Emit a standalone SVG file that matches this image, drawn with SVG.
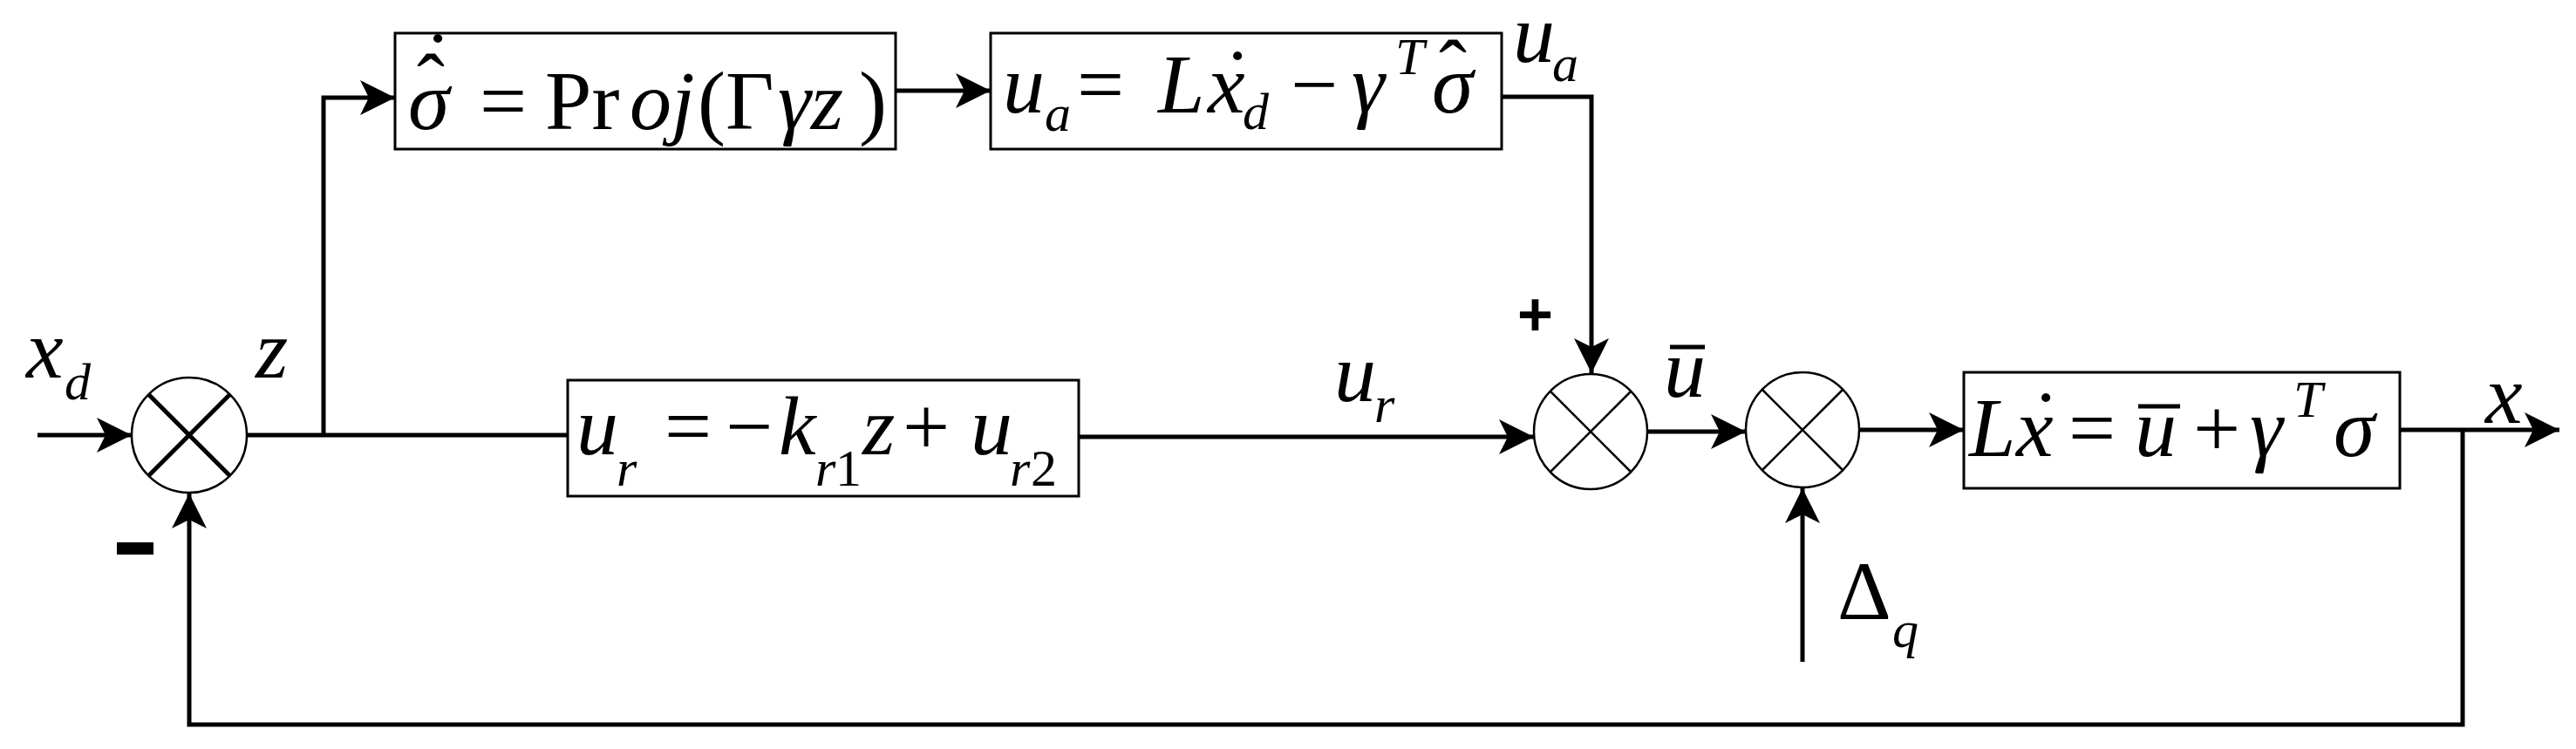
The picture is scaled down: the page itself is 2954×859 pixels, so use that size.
<svg xmlns="http://www.w3.org/2000/svg" width="2954" height="859" viewBox="0 0 2954 859">
<style>
.b{fill:#fff;stroke:#000;stroke-width:3}
.w{fill:none;stroke:#000;stroke-width:5}
.s{fill:#fff;stroke:#000;stroke-width:2.5}
.t{font-family:"Liberation Serif","Times New Roman",serif;font-size:96px;fill:#000}
.i{font-style:italic}
.m{font-size:60px}
.bd{font-family:"Liberation Sans",sans-serif;font-weight:bold;font-size:70px}
</style>
<defs>
<marker id="a" viewBox="0 0 40 40" refX="40" refY="20" markerWidth="40" markerHeight="40" markerUnits="userSpaceOnUse" orient="auto">
<path d="M0,0 L40,20 L0,40 L10,20 Z" fill="#000"/>
</marker>
</defs>
<g id="connectors">
<line class="w" x1="43" y1="499" x2="151" y2="499" marker-end="url(#a)"/>
<polyline class="w" points="283,499 651,499"/>
<polyline class="w" points="371,499 371,112 453,112" marker-end="url(#a)"/>
<line class="w" x1="1027" y1="104" x2="1136" y2="104" marker-end="url(#a)"/>
<polyline class="w" points="1722,111 1825,111 1825,428" marker-end="url(#a)"/>
<line class="w" x1="1237" y1="501" x2="1759" y2="501" marker-end="url(#a)"/>
<line class="w" x1="1889" y1="495" x2="2002" y2="495" marker-end="url(#a)"/>
<line class="w" x1="2132" y1="493" x2="2252" y2="493" marker-end="url(#a)"/>
<line class="w" x1="2067" y1="759" x2="2067" y2="560" marker-end="url(#a)"/>
<line class="w" x1="2752" y1="493" x2="2935" y2="493" marker-end="url(#a)"/>
<polyline class="w" points="2824,493 2824,831 217,831 217,566" marker-end="url(#a)"/>
</g>
<g id="sum1">
<ellipse class="s" cx="217" cy="499" rx="66" ry="66"/>
<line class="w" x1="170" y1="452" x2="264" y2="546"/><line class="w" x1="264" y1="452" x2="170" y2="546"/>
</g>
<g id="sum2">
<ellipse class="s" cx="1824" cy="495" rx="65" ry="66"/>
<line class="s" x1="1778" y1="449" x2="1870" y2="541"/><line class="s" x1="1870" y1="449" x2="1778" y2="541"/>
</g>
<g id="sum3">
<ellipse class="s" cx="2067" cy="493" rx="65" ry="66"/>
<line class="s" x1="2021" y1="447" x2="2113" y2="539"/><line class="s" x1="2113" y1="447" x2="2021" y2="539"/>
</g>
<g id="box1">
<rect class="b" x="453" y="38" width="574" height="133"/>
<text class="t i" x="468" y="148">σ</text>
<text class="t" x="478" y="128" font-size="70">ˆ</text>
<text class="t" x="486" y="102" font-size="70">˙</text>
<text class="t" x="550" y="148">=</text>
<text class="t" x="625" y="148">Pr</text>
<text class="t i" x="722" y="148">oj</text>
<text class="t" x="800" y="148">(Γ</text>
<text class="t i" x="892" y="148">γz</text>
<text class="t" x="985" y="148">)</text>
</g>
<g id="box2">
<rect class="b" x="1136" y="38" width="586" height="133"/>
<text class="t i" x="1150" y="129">u</text>
<text class="t i m" x="1198" y="150">a</text>
<text class="t" x="1235" y="129">=</text>
<text class="t i" x="1328" y="129">L</text>
<text class="t i" x="1385" y="129">x</text>
<text class="t" x="1403" y="122" font-size="70">˙</text>
<text class="t i m" x="1425" y="148">d</text>
<text class="t" x="1480" y="129">−</text>
<text class="t i" x="1550" y="129">γ</text>
<text class="t i m" x="1600" y="85">T</text>
<text class="t i" x="1642" y="129">σ</text>
<text class="t" x="1650" y="112" font-size="70">ˆ</text>
</g>
<g id="box3">
<rect class="b" x="651" y="436" width="586" height="133"/>
<text class="t i" x="661" y="521">u</text>
<text class="t i m" x="707" y="557">r</text>
<text class="t" x="762" y="521">=</text>
<text class="t" x="832" y="521">−</text>
<text class="t i" x="893" y="521">k</text>
<text class="t i m" x="935" y="557">r</text>
<text class="t m" x="958" y="557">1</text>
<text class="t i" x="989" y="521">z</text>
<text class="t" x="1035" y="521">+</text>
<text class="t i" x="1113" y="521">u</text>
<text class="t i m" x="1158" y="557">r</text>
<text class="t m" x="1182" y="557">2</text>
</g>
<g id="box4">
<rect class="b" x="2252" y="427" width="500" height="133"/>
<text class="t i" x="2258" y="523">L</text>
<text class="t i" x="2312" y="523">x</text>
<text class="t" x="2330" y="514" font-size="70">˙</text>
<text class="t" x="2372" y="523">=</text>
<text class="t i" x="2448" y="523">u</text>
<line x1="2452" y1="466" x2="2500" y2="466" stroke="#000" stroke-width="5"/>
<text class="t" x="2515" y="523">+</text>
<text class="t i" x="2580" y="523">γ</text>
<text class="t i m" x="2630" y="478">T</text>
<text class="t i" x="2676" y="523">σ</text>
</g>
<g id="labels">
<text class="t i" x="30" y="433">x</text>
<text class="t i m" x="74" y="458">d</text>
<text class="t i" x="293" y="433">z</text>
<rect x="134" y="622" width="42" height="14" fill="#000"/>
<text class="bd" x="1740" y="385">+</text>
<text class="t i" x="1735" y="71">u</text>
<text class="t i m" x="1780" y="93">a</text>
<text class="t i" x="1530" y="460">u</text>
<text class="t i m" x="1576" y="484">r</text>
<text class="t i" x="1908" y="455">u</text>
<line x1="1915" y1="398" x2="1955" y2="398" stroke="#000" stroke-width="5"/>
<text class="t" x="2107" y="710">Δ</text>
<text class="t i m" x="2170" y="742">q</text>
<text class="t i" x="2850" y="485">x</text>
</g>
</svg>
